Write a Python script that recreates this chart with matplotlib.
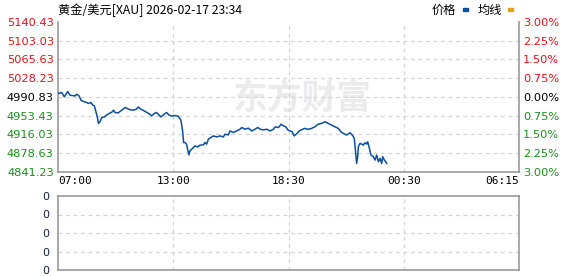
import matplotlib
matplotlib.use("Agg")
import matplotlib.pyplot as plt
from matplotlib.patches import Rectangle

# Intraday gold price (XAU/USD).
# x is the minute slot on a 0..1380 axis, quarter ticks labelled below.
slots = [0, 11, 19, 29, 36, 51, 56, 63, 69, 76, 86, 91, 99, 103, 109, 113,
         118, 121, 126, 131, 139, 146, 153, 161, 166, 171, 180, 191, 201,
         206, 213, 225, 235, 240, 248, 258, 268, 275, 280, 288, 295, 302,
         308, 315, 325, 332, 340, 349, 360, 368, 373, 376, 380, 385, 388,
         392, 395, 400, 405, 410, 418, 425, 435, 440, 445, 450, 458, 465,
         475, 485, 495, 500, 510, 515, 525, 535, 545, 550, 560, 570, 580,
         590, 598, 605, 615, 625, 635, 645, 650, 660, 668, 675, 682, 689,
         700, 707, 715, 724, 734, 739, 749, 759, 769, 779, 789, 799, 809,
         819, 829, 839, 847, 854, 864, 874, 881, 887, 891, 894, 897, 899,
         904, 914, 919, 924, 927, 931, 937, 944, 949, 954, 959, 964, 969,
         972, 977, 981, 984]
prices = [4997.8, 4999.8, 4991.0, 5001.8, 4994.4, 4993.0, 4996.4, 4993.0,
          4984.4, 4981.9, 4979.9, 4977.9, 4979.9, 4975.1, 4973.1, 4963.1,
          4949.9, 4938.0, 4941.9, 4949.9, 4951.1, 4955.1, 4957.9, 4960.5,
          4964.5, 4959.9, 4959.1, 4964.5, 4969.9, 4968.5, 4965.9, 4964.5,
          4966.5, 4971.1, 4966.5, 4963.1, 4959.1, 4956.5, 4953.1, 4957.9,
          4959.9, 4955.1, 4951.1, 4955.1, 4959.9, 4955.1, 4952.5, 4953.9,
          4952.5, 4944.6, 4923.2, 4900.1, 4900.1, 4896.7, 4886.7, 4875.3,
          4883.3, 4886.7, 4890.1, 4893.3, 4891.3, 4894.7, 4895.3, 4900.1,
          4896.7, 4906.6, 4910.0, 4913.2, 4911.2, 4913.2, 4911.2, 4916.6,
          4915.2, 4923.2, 4920.0, 4923.2, 4926.6, 4930.0, 4926.6, 4928.6,
          4923.2, 4926.6, 4930.0, 4926.6, 4925.2, 4926.6, 4923.2, 4926.6,
          4931.2, 4930.0, 4936.6, 4933.2, 4931.2, 4924.6, 4922.0, 4913.2,
          4918.0, 4924.0, 4927.0, 4928.2, 4926.2, 4928.2, 4931.4, 4936.8,
          4938.2, 4941.4, 4938.2, 4934.6, 4931.4, 4928.2, 4921.4, 4918.2,
          4914.9, 4919.5, 4914.9, 4908.3, 4878.4, 4858.4, 4871.6, 4891.6,
          4898.4, 4895.0, 4899.6, 4897.0, 4901.6, 4891.6, 4875.0, 4871.6,
          4865.0, 4875.0, 4861.6, 4868.4, 4858.4, 4871.6, 4865.0, 4861.6,
          4858.4]

base_price = 4990.83
price_levels = [4841.23, 4878.63, 4916.03, 4953.43, 4990.83,
                5028.23, 5065.63, 5103.03, 5140.43]
time_ticks = [0, 345, 690, 1035, 1380]
time_labels = ["07:00", "13:00", "18:30", "00:30", "06:15"]
volume_levels = [0, 1, 2, 3, 4]

RED = "#e8101a"
GREEN = "#17901a"
GRID = "#d4d4d4"
FRAME = "#999999"
LINE = "#0a4fa0"
CJK = ["Noto Sans CJK SC", "DejaVu Sans"]

W, H = 578, 276
fig = plt.figure(figsize=(W / 100, H / 100), dpi=100)
fig.patch.set_facecolor("white")

def px_box(left, top, right, bottom):
    return [left / W, 1 - bottom / H, (right - left) / W, (bottom - top) / H]

# Price panel
ax = fig.add_axes(px_box(58, 22, 519, 172))
ax.set_xlim(time_ticks[0], time_ticks[-1])
ax.set_ylim(price_levels[0], price_levels[-1])
for y in price_levels[1:-1]:
    ax.axhline(y, color=GRID, lw=0.9, ls=(0, (3, 3)), zorder=1)
for x in time_ticks[1:-1]:
    ax.axvline(x, color=GRID, lw=0.9, ls=(0, (3, 3)), zorder=1)

ax.text(0.53, 0.49, "东方财富", transform=ax.transAxes, ha="center",
        va="center", fontsize=25, fontweight="bold", color="#ebebee",
        family=CJK, zorder=0)

ax.plot(slots, prices, color=LINE, lw=1.1, zorder=3)

for s in ax.spines.values():
    s.set_color(FRAME)
    s.set_linewidth(1.2)
ax.spines["top"].set_visible(False)
ax.tick_params(length=0, pad=3)

ax.set_yticks(price_levels)
ax.set_yticklabels(["%.2f" % p for p in price_levels], fontsize=8.2)
for lab, p in zip(ax.get_yticklabels(), price_levels):
    lab.set_color(RED if p > base_price + 0.01 else
                  GREEN if p < base_price - 0.01 else "black")

ax.set_xticks(time_ticks)
ax.set_xticklabels(time_labels, fontsize=8, family="DejaVu Sans Mono")
xl = ax.get_xticklabels()
xl[0].set_ha("left")
xl[-1].set_ha("right")

ax2 = ax.twinx()
ax2.set_ylim(ax.get_ylim())
ax2.set_yticks(price_levels)
ax2.set_yticklabels(["%.2f%%" % abs((p - base_price) / base_price * 100)
                     for p in price_levels], fontsize=8.2)
for lab, p in zip(ax2.get_yticklabels(), price_levels):
    lab.set_color(RED if p > base_price + 0.01 else
                  GREEN if p < base_price - 0.01 else "black")
ax2.tick_params(length=0, pad=3)
for s in ax2.spines.values():
    s.set_visible(False)

# Volume panel (empty)
axv = fig.add_axes(px_box(58, 196, 519, 270))
axv.set_xlim(time_ticks[0], time_ticks[-1])
axv.set_ylim(volume_levels[0], volume_levels[-1])
for y in volume_levels[1:-1]:
    axv.axhline(y, color=GRID, lw=0.9, ls=(0, (3, 3)))
for x in time_ticks[1:-1]:
    axv.axvline(x, color=GRID, lw=0.9, ls=(0, (3, 3)))
axv.set_xticks([])
axv.set_yticks(volume_levels)
axv.set_yticklabels(["0"] * len(volume_levels), fontsize=8,
                    color="#15204a")
axv.tick_params(length=0, pad=6)
for lab in axv.get_yticklabels():
    lab.set_va("center_baseline")
for s in axv.spines.values():
    s.set_color(FRAME)
    s.set_linewidth(1.2)

# Title and legend
fig.text(58 / W, 1 - 10 / H, "黄金/美元[XAU] 2026-02-17 23:34", family=CJK,
         fontsize=8.8, va="center", ha="left")
fig.text(432 / W, 1 - 10 / H, "价格", family=CJK, fontsize=8.8, va="center")
fig.patches.append(Rectangle((463 / W, 1 - 11 / H), 5 / W, 3 / H,
                             transform=fig.transFigure, color="#0a4fa0"))
fig.text(478 / W, 1 - 10 / H, "均线", family=CJK, fontsize=8.8, va="center")
fig.patches.append(Rectangle((508 / W, 1 - 11 / H), 5 / W, 3 / H,
                             transform=fig.transFigure, color="#e3a21a"))

fig.savefig("out.png", dpi=100)
